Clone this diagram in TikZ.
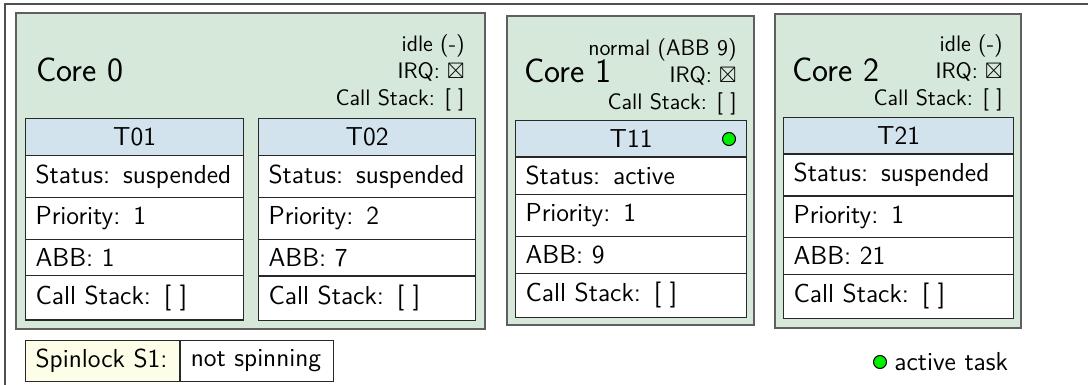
\documentclass[tikz,border=0pt]{standalone}
\usepackage{amssymb}
\usepackage{fontspec}
\usetikzlibrary{shapes.multipart,fit}

\definecolor{corefill}{RGB}{213,232,217}
\definecolor{headfill}{RGB}{211,227,238}
\definecolor{lockfill}{RGB}{254,254,232}
\definecolor{coreline}{RGB}{95,95,95}
\definecolor{taskline}{RGB}{40,40,40}
\definecolor{frameline}{RGB}{80,80,80}
\definecolor{activegreen}{RGB}{0,240,0}

\begin{document}
\begin{tikzpicture}[x=0.5pt,y=-0.5pt,
  corebox/.style={draw=coreline, fill=corefill, line width=0.7pt, inner sep=0pt},
  coretitle/.style={font=\sffamily\fontsize{17}{20}\selectfont, inner sep=0pt, anchor=base west},
  coreinfo/.style={font=\sffamily\fontsize{11.2}{13.5}\selectfont, align=right, inner sep=0pt, anchor=north east},
  taskbox/.style={rectangle split, rectangle split parts=5, draw=taskline, line width=0.6pt,
    rectangle split part fill={headfill,white,white,white,white},
    text width=#1, align=left, inner xsep=5pt, inner ysep=4.3pt, anchor=north west,
    font=\sffamily\fontsize{13}{15.6}\selectfont},
  lockcell/.style={draw=taskline, line width=0.6pt, anchor=north west, align=left,
    inner xsep=5pt, inner ysep=0pt, minimum height=20.5pt, text width=#1,
    font=\sffamily\fontsize{13}{15.6}\selectfont},
  activedot/.style={circle, draw=black, fill=activegreen, line width=0.5pt,
    minimum size=6.5pt, inner sep=0pt},
  plain/.style={font=\sffamily\fontsize{13}{15.6}\selectfont, inner sep=0pt}
]
\useasboundingbox (0,0) rectangle (1088,385);

% outer frame (runs off the page at the right and bottom)
\draw[frameline, line width=0.6pt] (5,385) -- (5,4) -- (1088,4);

% cores
\node[corebox, fit={(16,13) (485,329)}] (core0) {};
\node[corebox, fit={(507,16) (754,325)}] (core1) {};
\node[corebox, fit={(775,14) (1021,328)}] (core2) {};

\node[coretitle] (core0title) at (36,82) {Core 0};
\node[coretitle] (core1title) at (524,83) {Core 1};
\node[coretitle] (core2title) at (792,82) {Core 2};

\node[coreinfo] (core0info) at (465,34) {idle (-)\\ IRQ: $\boxtimes$\\ Call Stack: [ ]};
\node[coreinfo] (core1info) at (737,38) {normal (ABB 9)\\ IRQ: $\boxtimes$\\ Call Stack: [ ]};
\node[coreinfo] (core2info) at (1003,34) {idle (-)\\ IRQ: $\boxtimes$\\ Call Stack: [ ]};

% tasks
\node[taskbox=99pt] (T01) at (25,118) {\hfill T01\hfill\null
  \nodepart{two}Status: suspended
  \nodepart{three}Priority: 1
  \nodepart{four}ABB: 1
  \nodepart{five}Call Stack: [ ]};
\node[taskbox=98.5pt] (T02) at (258,118) {\hfill T02\hfill\null
  \nodepart{two}Status: suspended
  \nodepart{three}Priority: 2
  \nodepart{four}ABB: 7
  \nodepart{five}Call Stack: [ ]};
\node[taskbox=105.5pt] (T11) at (515,120) {\hfill T11\hfill\null
  \nodepart{two}Status: active
  \nodepart{three}Priority: 1
  \nodepart{four}ABB: 9
  \nodepart{five}Call Stack: [ ]};
\node[taskbox=105pt] (T21) at (783,117) {\hfill T21\hfill\null
  \nodepart{two}Status: suspended
  \nodepart{three}Priority: 1
  \nodepart{four}ABB: 21
  \nodepart{five}Call Stack: [ ]};

\node[activedot] (T11dot) at (729,139) {};

% spinlock state
\node[lockcell=67pt, fill=lockfill] (lockkey) at (25,340) {Spinlock S1:};
\node[lockcell=66.5pt, fill=white] (lockval) at (lockkey.north east) {not spinning};

% legend
\node[activedot] (legenddot) at (880,362) {};
\node[plain, anchor=base west] (legendtext) at (894,370) {active task};
\end{tikzpicture}
\end{document}
